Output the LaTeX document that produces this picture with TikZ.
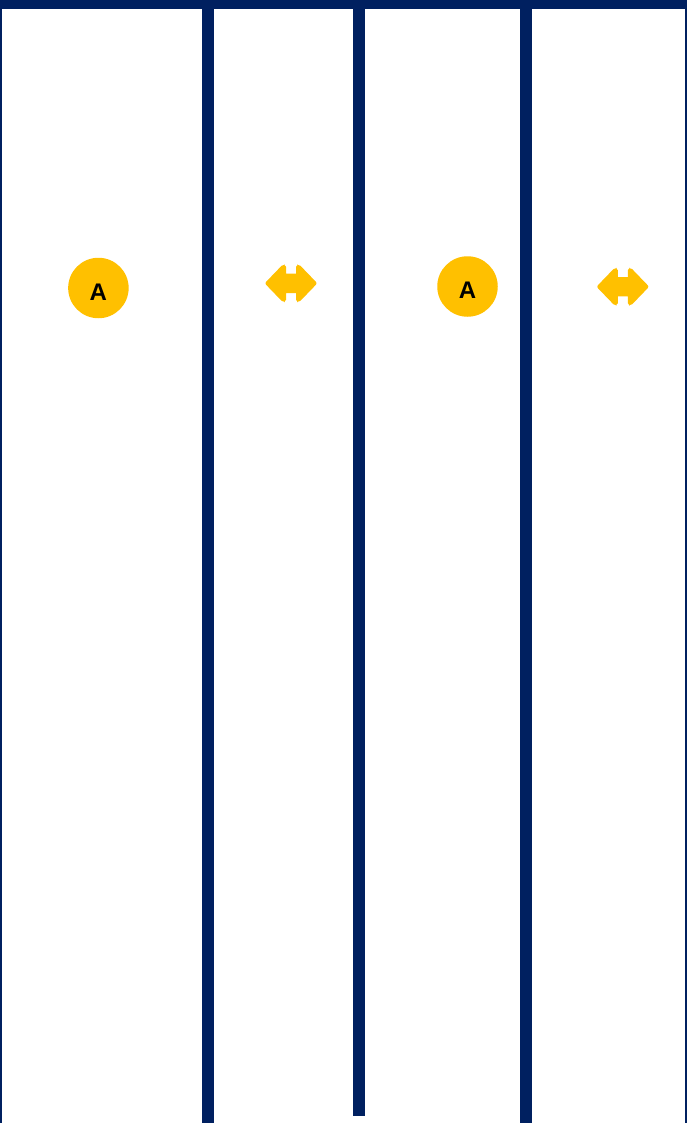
\documentclass[tikz,border=0pt]{standalone}
\usepackage{fontspec}
\setmainfont{Liberation Sans}
\usepackage{tikz}
\usetikzlibrary{positioning, calc}
\definecolor{wallblue}{RGB}{0,32,96}
\definecolor{markyellow}{RGB}{255,192,0}
\tikzset{
    wall/.style={fill=wallblue, draw=none},
    doormark/.style={circle, fill=markyellow, draw=none, inner sep=0pt, minimum size=60.5pt},
    doorletter/.style={font=\fontsize{24}{24}\selectfont\bfseries, text=black, inner sep=0pt},
    twoway/.style={fill=markyellow, draw=none, rounded corners=2pt},
}
% double-headed arrow around a centre point
\newcommand{\twowaymark}[1]{
    \fill[twoway, shift={(#1)}] (-26.3,0) -- (-8,-19) -- (-5,-18.5) [sharp corners] -- (-5,-9.7)
        -- (5,-9.7) [rounded corners=2pt] -- (5,-18.5) -- (8,-19) -- (26.3,0)
        -- (8,19) -- (5,18.5) [sharp corners] -- (5,9.7) -- (-5,9.7) [rounded corners=2pt]
        -- (-5,18.5) -- (-8,19) -- cycle;
}
\begin{document}
\begin{tikzpicture}[x=1pt,y=-1pt]
    % picture size
    \def\picwidth{687}
    \def\picheight{1123}
    \useasboundingbox (0,0) rectangle (\picwidth,\picheight);
    \fill[white] (0,0) rectangle (\picwidth,\picheight);
    % outer walls
    \fill[wall] (0,0) rectangle (\picwidth,8.7);
    \fill[wall] (0,0) rectangle (2.4,\picheight);
    \fill[wall] (685.3,0) rectangle (\picwidth,\picheight);
    % inner walls
    \fill[wall] (202,0) rectangle (214,\picheight);
    \fill[wall] (353,0) rectangle (365,1115.7);
    \fill[wall] (519.5,0) rectangle (531.5,\picheight);
    % round marks
    \node[doormark] (markA) at (98.4,288) {};
    \node[doorletter] (letterA) at (98.3,292.3) {A};
    \node[doormark] (markB) at (467.5,286.5) {};
    \node[doorletter] (letterB) at (467.5,290.5) {A};
    % arrows
    \coordinate (arrowA) at (291,283.3);
    \coordinate (arrowB) at (622.8,286.7);
    \twowaymark{arrowA}
    \twowaymark{arrowB}
\end{tikzpicture}
\end{document}
